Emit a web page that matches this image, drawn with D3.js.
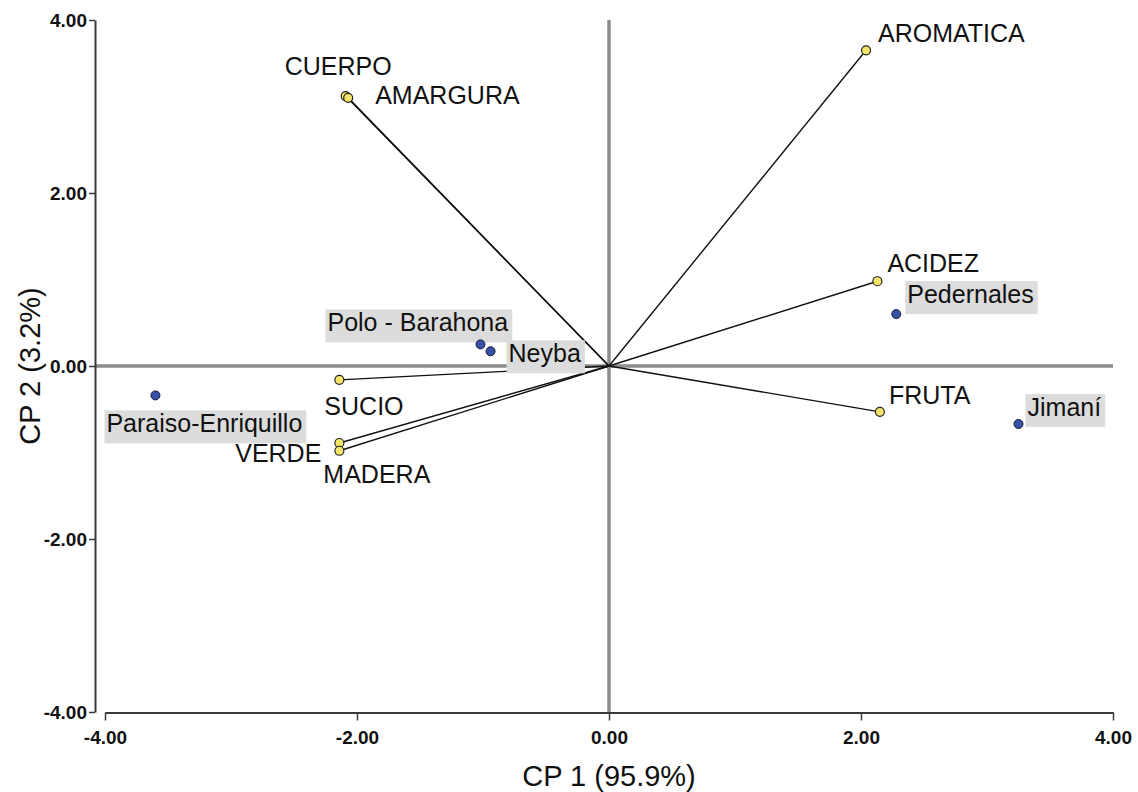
<!DOCTYPE html>
<html lang="en">
<head>
  <meta charset="UTF-8">
  <title>Biplot CP1 vs CP2</title>
  <script src="https://d3js.org/d3.v7.min.js"></script>
  <style>
    body { margin: 0; background: #fff; font-family: "Liberation Sans", Arial, sans-serif; }
    svg { display: block; }
    .tick-label { font-size: 19px; font-weight: bold; fill: #111; }
    .axis-title { font-size: 29px; fill: #111; }
    .lab { font-size: 25px; fill: #111; }
  </style>
</head>
<body>
  <svg width="1138" height="792"></svg>
  <script>
    // variables (loadings) - yellow points
    const variables = ["AROMATICA", "CUERPO", "AMARGURA", "ACIDEZ", "FRUTA", "SUCIO", "VERDE", "MADERA"];
    const varCP1 = [2.04, -2.09, -2.07, 2.13, 2.15, -2.14, -2.14, -2.14];
    const varCP2 = [3.65, 3.12, 3.10, 0.98, -0.53, -0.16, -0.89, -0.98];

    // sites (scores) - blue points
    const sites = ["Pedernales", "Jimaní", "Polo - Barahona", "Neyba", "Paraiso-Enriquillo"];
    const siteCP1 = [2.28, 3.25, -1.02, -0.94, -3.60];
    const siteCP2 = [0.60, -0.67, 0.25, 0.17, -0.34];

    const ticks = [-4, -2, 0, 2, 4];

    // label placement (pixels relative to point)
    const varLabelPos = {
      "AROMATICA": [12, -8, "start"],
      "CUERPO": [-61, -21, "start"],
      "AMARGURA": [27, 6, "start"],
      "ACIDEZ": [10, -9, "start"],
      "FRUTA": [9, -8, "start"],
      "SUCIO": [-15, 35, "start"],
      "VERDE": [-18, 19, "end"],
      "MADERA": [-16, 32, "start"]
    };
    const siteLabelPos = {
      "Pedernales": [11, -11],
      "Jimaní": [9, -8],
      "Polo - Barahona": [-153, -13],
      "Neyba": [18, 11],
      "Paraiso-Enriquillo": [-49, 37]
    };

    const svg = d3.select("svg");
    const x = d3.scaleLinear().domain([-4, 4]).range([105, 1113]);
    const y = d3.scaleLinear().domain([-4, 4]).range([712, 20]);
    const yAxisX = 95;
    const fmt = d => d3.format(".2f")(d).replace("\u2212", "-");

    // zero reference lines
    svg.append("line")
      .attr("x1", x(0)).attr("x2", x(0))
      .attr("y1", y(4)).attr("y2", y(-4))
      .attr("stroke", "#8c8c8c").attr("stroke-width", 3.5);
    svg.append("line")
      .attr("x1", yAxisX).attr("x2", x(4))
      .attr("y1", y(0)).attr("y2", y(0))
      .attr("stroke", "#8c8c8c").attr("stroke-width", 3.5);

    // x axis
    const xAxis = svg.append("g")
      .attr("transform", `translate(0,${y(-4) + 0.5})`)
      .call(d3.axisBottom(x).tickValues(ticks).tickSize(8).tickSizeOuter(0).tickFormat(fmt));
    xAxis.select(".domain").attr("stroke", "#3a3a3a").attr("stroke-width", 2);
    xAxis.selectAll(".tick line").attr("stroke", "#3a3a3a").attr("stroke-width", 1.5);
    xAxis.selectAll(".tick text").attr("class", "tick-label").attr("font-family", null).attr("font-size", null)
      .attr("y", 0).attr("dy", 31).attr("fill", null);

    // y axis
    const yAxis = svg.append("g")
      .attr("transform", `translate(${yAxisX},0)`)
      .call(d3.axisLeft(y).tickValues(ticks).tickSize(6).tickSizeOuter(0).tickFormat(fmt));
    yAxis.select(".domain").attr("stroke", "#3a3a3a").attr("stroke-width", 2);
    yAxis.selectAll(".tick line").attr("stroke", "#3a3a3a").attr("stroke-width", 1.5);
    yAxis.selectAll(".tick text").attr("class", "tick-label").attr("font-family", null).attr("font-size", null)
      .attr("x", -8).attr("dy", "0.32em").attr("fill", null);

    // axis titles
    svg.append("text").attr("class", "axis-title")
      .attr("x", x(0)).attr("y", 786).attr("text-anchor", "middle")
      .text("CP 1 (95.9%)");
    svg.append("text").attr("class", "axis-title")
      .attr("transform", `translate(40,${y(0)}) rotate(-90)`)
      .attr("text-anchor", "middle")
      .text("CP 2 (3.2%)");

    // vectors
    const vars = variables.map((v, i) => ({ name: v, cp1: varCP1[i], cp2: varCP2[i] }));
    svg.append("g").selectAll("line").data(vars).join("line")
      .attr("x1", x(0)).attr("y1", y(0))
      .attr("x2", d => x(d.cp1)).attr("y2", d => y(d.cp2))
      .attr("stroke", "#111").attr("stroke-width", 1.4);

    // site labels with grey background
    const siteData = sites.map((s, i) => ({ name: s, cp1: siteCP1[i], cp2: siteCP2[i] }));
    const siteLab = svg.append("g").selectAll("g").data(siteData).join("g");
    siteLab.each(function(d) {
      const g = d3.select(this);
      const [dx, dy] = siteLabelPos[d.name];
      const t = g.append("text").attr("class", "lab")
        .attr("x", x(d.cp1) + dx).attr("y", y(d.cp2) + dy)
        .text(d.name);
      const b = t.node().getBBox();
      g.insert("rect", "text")
        .attr("x", b.x - 2).attr("y", b.y + 1)
        .attr("width", b.width + 6).attr("height", b.height + 5)
        .attr("fill", "#dcdcdc");
    });

    // site points
    svg.append("g").selectAll("circle").data(siteData).join("circle")
      .attr("cx", d => x(d.cp1)).attr("cy", d => y(d.cp2))
      .attr("r", 4.5)
      .attr("fill", "#3552a8").attr("stroke", "#1a1a2e").attr("stroke-width", 1);

    // variable points
    svg.append("g").selectAll("circle").data(vars).join("circle")
      .attr("cx", d => x(d.cp1)).attr("cy", d => y(d.cp2))
      .attr("r", 4.5)
      .attr("fill", "#f3e46a").attr("stroke", "#222").attr("stroke-width", 1.2);

    // variable labels
    svg.append("g").selectAll("text").data(vars).join("text")
      .attr("class", "lab")
      .attr("x", d => x(d.cp1) + varLabelPos[d.name][0])
      .attr("y", d => y(d.cp2) + varLabelPos[d.name][1])
      .attr("text-anchor", d => varLabelPos[d.name][2])
      .text(d => d.name);
  </script>
</body>
</html>
